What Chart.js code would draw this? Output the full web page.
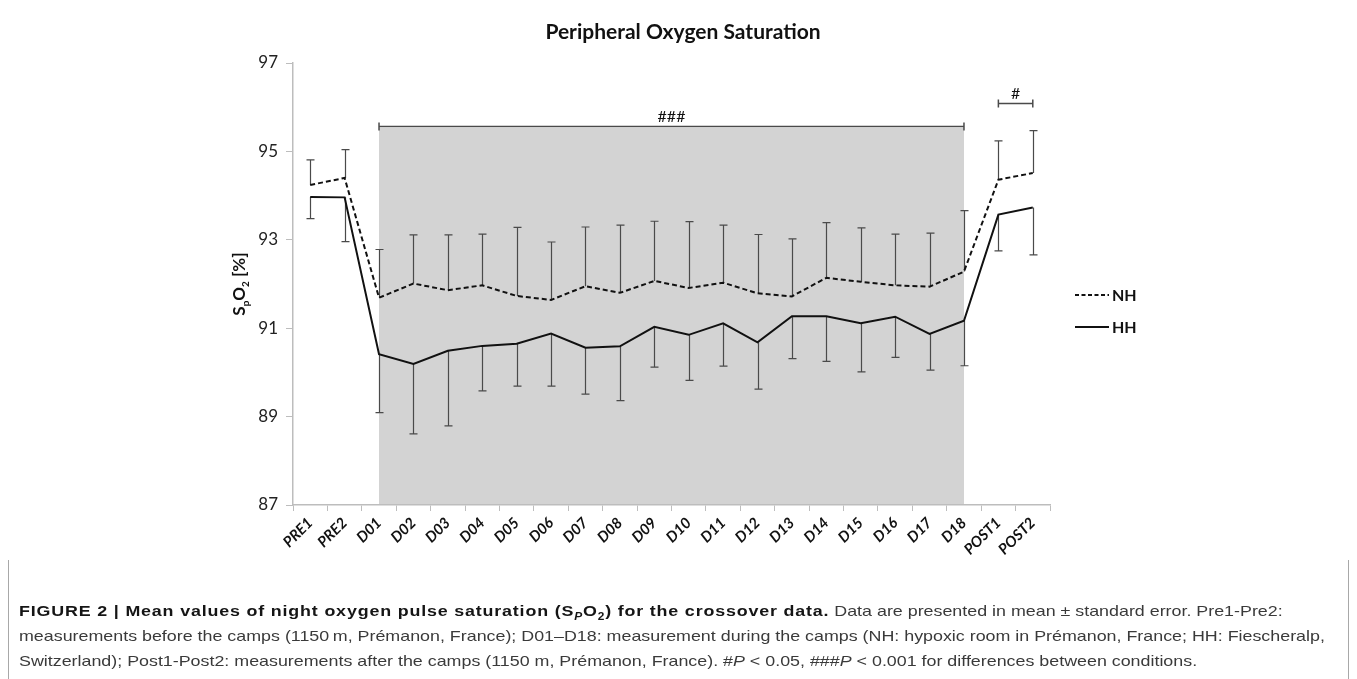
<!DOCTYPE html>
<html>
<head>
<meta charset="utf-8">
<script src="https://cdn.jsdelivr.net/npm/chart.js@4.4.1/dist/chart.umd.min.js"></script>
<style>
    body { margin: 0; background: #fff; width: 1357px; height: 679px; overflow: hidden; position: relative; }
    #chart-wrap { position: absolute; left: 0; top: 0; width: 1357px; height: 570px; }
    #caption {
        position: absolute; left: 8px; top: 560px; width: 1341px; height: 130px;
        border-left: 1px solid #a8a8a8; border-right: 1px solid #a8a8a8; box-sizing: border-box;
    }
    #caption .txt {
        position: absolute; left: 10px; top: 38px;
        transform: scaleX(1.19); transform-origin: 0 0;
        font-family: "Liberation Sans", Arial, sans-serif; font-size: 15px; line-height: 25px;
        color: #3a3a3a; white-space: nowrap;
    }
    #caption b { color: #151515; letter-spacing: 0.7px; }
    #caption sub { font-size: 10px; line-height: 0; }
</style>
</head>
<body>
<div id="chart-wrap"><canvas id="spo2-chart" width="1357" height="570"></canvas></div>
<div id="caption"><div class="txt">
    <b>FIGURE 2 | Mean values of night oxygen pulse saturation (S<sub><i>P</i></sub>O<sub>2</sub>) for the crossover data.</b> Data are presented in mean ± standard error. Pre1-Pre2:<br>
    measurements before the camps (1150&thinsp;m, Prémanon, France); D01–D18: measurement during the camps (NH: hypoxic room in Prémanon, France; HH: Fiescheralp,<br>
    Switzerland); Post1-Post2: measurements after the camps (1150 m, Prémanon, France). #<i>P</i> &lt; 0.05, ###<i>P</i> &lt; 0.001 for differences between conditions.
</div></div>

<script>
// categories + values
const labels = ['PRE1', 'PRE2', 'D01', 'D02', 'D03', 'D04', 'D05', 'D06', 'D07', 'D08', 'D09',
    'D10', 'D11', 'D12', 'D13', 'D14', 'D15', 'D16', 'D17', 'D18', 'POST1', 'POST2'];

const nhMean = [94.24, 94.40, 91.69, 92.01, 91.86, 91.97, 91.73, 91.64, 91.95, 91.80, 92.07,
    91.91, 92.03, 91.79, 91.72, 92.14, 92.05, 91.97, 91.94, 92.28, 94.36, 94.51];
const nhSE = [0.57, 0.64, 1.09, 1.10, 1.25, 1.16, 1.55, 1.31, 1.34, 1.53, 1.35,
    1.50, 1.30, 1.33, 1.30, 1.25, 1.22, 1.16, 1.21, 1.38, 0.88, 0.96];

const hhMean = [93.97, 93.96, 90.41, 90.19, 90.49, 90.60, 90.65, 90.88, 90.56, 90.59, 91.03,
    90.85, 91.11, 90.68, 91.27, 91.27, 91.11, 91.26, 90.87, 91.17, 93.57, 93.73];
const hhSE = [0.49, 1.00, 1.32, 1.58, 1.70, 1.02, 0.96, 1.19, 1.05, 1.23, 0.91,
    1.03, 0.97, 1.06, 0.96, 1.02, 1.10, 0.92, 0.82, 1.02, 0.82, 1.07];

const yTicks = [87, 89, 91, 93, 95, 97];

// camp period (shaded) and significance brackets: [from index, to index, level, mark]
const campRange = [2, 19];
const campTop = 95.53;
const brackets = [[2, 19, 95.57, '###'], [20, 21, 96.09, '#']];

const FONT = "Lato, 'Open Sans', sans-serif";

const decorPlugin = {
    id: 'decor',
    beforeDraw(chart) {
        const { ctx, chartArea, scales: { x, y } } = chart;
        ctx.save();
        ctx.fillStyle = '#d3d3d3';
        const x0 = x.getPixelForValue(campRange[0]);
        const x1 = x.getPixelForValue(campRange[1]);
        const top = y.getPixelForValue(campTop);
        ctx.fillRect(x0, top, x1 - x0, chartArea.bottom - top);
        ctx.restore();
    },
    beforeDatasetsDraw(chart) {
        // error bars: NH upward, HH downward
        const { ctx, scales: { x, y } } = chart;
        ctx.save();
        ctx.strokeStyle = '#4a4a4a';
        ctx.lineWidth = 1.2;
        const cap = 4;
        const bar = (i, from, to) => {
            const px = Math.round(x.getPixelForValue(i)) + 0.5;
            const p0 = y.getPixelForValue(from);
            const p1 = y.getPixelForValue(to);
            ctx.beginPath();
            ctx.moveTo(px, p0); ctx.lineTo(px, p1);
            ctx.moveTo(px - cap, p1); ctx.lineTo(px + cap, p1);
            ctx.stroke();
        };
        labels.forEach((_, i) => {
            bar(i, nhMean[i], nhMean[i] + nhSE[i]);
            bar(i, hhMean[i], hhMean[i] - hhSE[i]);
        });
        ctx.restore();
    },
    afterDraw(chart) {
        const { ctx, chartArea, scales: { x, y } } = chart;
        ctx.save();

        // title
        ctx.fillStyle = '#111';
        ctx.font = `bold 21px ${FONT}`;
        ctx.textAlign = 'center';
        ctx.textBaseline = 'middle';
        ctx.fillText('Peripheral Oxygen Saturation', 683, 32);

        // brackets
        ctx.strokeStyle = '#4a4a4a';
        ctx.lineWidth = 1.5;
        brackets.forEach(([a, b, lvl, mark]) => {
            const xa = x.getPixelForValue(a), xb = x.getPixelForValue(b);
            const py = Math.round(y.getPixelForValue(lvl)) + 0.5;
            ctx.beginPath();
            ctx.moveTo(xa, py); ctx.lineTo(xb, py);
            ctx.moveTo(xa, py - 4); ctx.lineTo(xa, py + 4);
            ctx.moveTo(xb, py - 4); ctx.lineTo(xb, py + 4);
            ctx.stroke();
            ctx.font = `16px ${FONT}`;
            ctx.textBaseline = 'alphabetic';
            ctx.fillText(mark, (xa + xb) / 2, py - 5);
        });

        // y axis title with subscripts
        ctx.translate(239, (chartArea.top + chartArea.bottom) / 2);
        ctx.rotate(-Math.PI / 2);
        ctx.textAlign = 'left';
        ctx.textBaseline = 'alphabetic';
        const parts = [['S', 17, 0], ['p', 10, 4], ['O', 17, 0], ['2', 10, 4], [' [%]', 17, 0]];
        let total = 0;
        parts.forEach(([t, s]) => { ctx.font = `bold ${s}px ${FONT}`; total += ctx.measureText(t).width; });
        let cx = -total / 2;
        parts.forEach(([t, s, dy]) => {
            ctx.font = `bold ${s}px ${FONT}`;
            ctx.fillText(t, cx, 6 + dy);
            cx += ctx.measureText(t).width;
        });
        ctx.setTransform(1, 0, 0, 1, 0, 0);

        // legend
        const legend = [['NH', [4, 2.5], 295], ['HH', [], 327]];
        legend.forEach(([name, dash, ly]) => {
            ctx.strokeStyle = '#111';
            ctx.lineWidth = 2;
            ctx.setLineDash(dash);
            ctx.beginPath();
            ctx.moveTo(1075, ly); ctx.lineTo(1109, ly);
            ctx.stroke();
            ctx.setLineDash([]);
            ctx.font = `bold 16px ${FONT}`;
            ctx.textAlign = 'left';
            ctx.textBaseline = 'middle';
            ctx.fillText(name, 1112, ly + 1);
        });
        ctx.restore();
    }
};

const ctx = document.getElementById('spo2-chart').getContext('2d');
new Chart(ctx, {
    type: 'line',
    data: {
        labels: labels,
        datasets: [{
            label: 'NH',
            data: nhMean,
            borderColor: '#111',
            borderWidth: 2,
            borderDash: [5, 3],
            pointRadius: 0,
            tension: 0,
            fill: false
        }, {
            label: 'HH',
            data: hhMean,
            borderColor: '#111',
            borderWidth: 2,
            pointRadius: 0,
            tension: 0,
            fill: false
        }]
    },
    options: {
        responsive: false,
        animation: false,
        layout: { padding: { left: 0, right: 307, top: 63, bottom: 0 } },
        plugins: { legend: { display: false }, tooltip: { enabled: false }, title: { display: false } },
        scales: {
            x: {
                offset: true,
                grid: { drawOnChartArea: false, offset: true, tickLength: 6, color: '#bdbdbd' },
                border: { color: '#bdbdbd', width: 1.5 },
                ticks: {
                    autoSkip: false, maxRotation: 45, minRotation: 45, padding: 3,
                    color: '#111', font: { family: FONT, size: 15, weight: 'bold', style: 'italic' }
                },
                afterFit: s => { s.height = 65; }
            },
            y: {
                min: 87, max: 97,
                afterBuildTicks: s => { s.ticks = yTicks.map(v => ({ value: v })); },
                grid: { drawOnChartArea: false, tickLength: 7, color: '#bdbdbd' },
                border: { color: '#bdbdbd', width: 1.5 },
                ticks: { padding: 8, color: '#222', font: { family: FONT, size: 17 } },
                afterFit: s => { s.width = 293; }
            }
        }
    },
    plugins: [decorPlugin]
});
</script>
</body>
</html>
